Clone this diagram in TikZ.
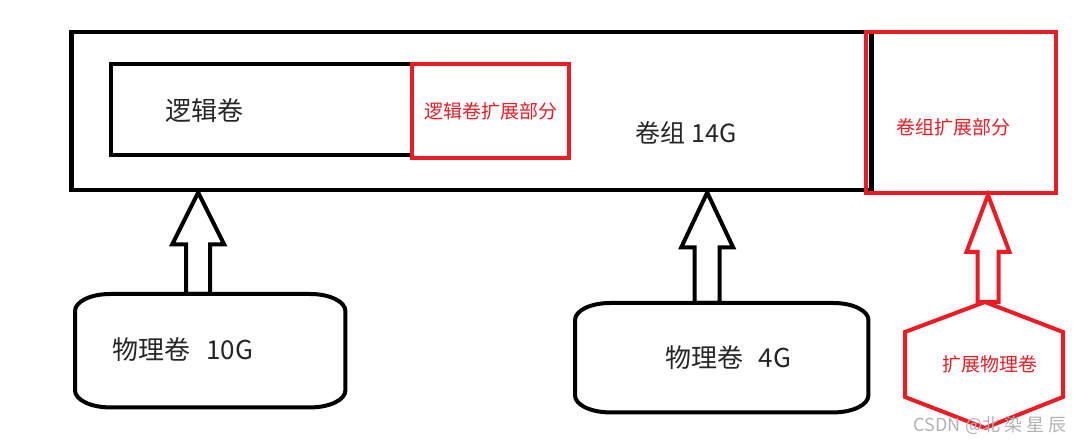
\documentclass[tikz,border=0pt]{standalone}
\usepackage{fontspec}
\setmainfont{Noto Sans CJK SC}
\usetikzlibrary{calc}
\definecolor{paintred}{HTML}{ED1C24}

% block arrow pointing up: [options]{base}{tip}{head half width}{head length}{shaft half width}
\newcommand{\blockup}[6][]{%
  \draw[#1] let \p1=(#3), \p2=(#2) in
    (\p1) -- (\x1-#4pt,\y1-#5pt) -- (\x1-#6pt,\y1-#5pt) -- (\x1-#6pt,\y2)
    -- (\x1+#6pt,\y2) -- (\x1+#6pt,\y1-#5pt) -- (\x1+#4pt,\y1-#5pt) -- cycle;}

% outline of a physical volume round a named node
\newcommand{\diskoutline}[1]{%
  \draw[line width=4pt] ([xshift=35pt]#1.north west) -- ([xshift=-35pt]#1.north east)
    arc[start angle=90, end angle=0, x radius=35pt, y radius=17pt]
    -- ([yshift=17pt]#1.south east)
    arc[start angle=0, end angle=-90, x radius=35pt, y radius=17pt]
    -- ([xshift=35pt]#1.south west)
    arc[start angle=270, end angle=180, x radius=35pt, y radius=17pt]
    -- ([yshift=-17pt]#1.north west)
    arc[start angle=180, end angle=90, x radius=35pt, y radius=17pt] -- cycle;}

\begin{document}
\begin{tikzpicture}[x=1pt, y=-1pt, line join=miter,
  frame/.style={draw, line width=4.5pt, inner sep=0pt, anchor=north west},
  redframe/.style={draw=paintred, line width=4pt, inner sep=0pt, anchor=north west},
  disk/.style={inner sep=0pt, anchor=north west},
  blacktxt/.style={text=black!85, font=\fontsize{25}{27}\selectfont},
  redtxt/.style={text=paintred, font=\fontsize{19}{21}\selectfont},
  arrowline/.style={line width=4pt},
  redarrow/.style={draw=paintred, line width=4pt}]

  \useasboundingbox (0,0) rectangle (1086,443);

  % volume group and its extension
  \node[frame, minimum width=800pt, minimum height=158pt] (vg) at (69,30) {};
  \node[redframe, minimum width=190pt, minimum height=161pt] (vgext) at (864,30) {};

  % logical volume and its extension
  \node[frame, line width=4pt, minimum width=301pt, minimum height=91pt] (lv) at (109,62) {};
  \node[redframe, minimum width=157pt, minimum height=94pt] (lvext) at (410,62) {};

  \node[blacktxt, font=\fontsize{26}{28}\selectfont] (lvtxt) at (204,111) {逻辑卷};
  \node[redtxt] (lvexttxt) at (lvext.center) {逻辑卷扩展部分};
  \node[blacktxt] (vgtxt) at (686,133) {卷组 14G};
  \node[redtxt] (vgexttxt) at (953,127) {卷组扩展部分};

  % physical volumes
  \node[disk, minimum width=270pt, minimum height=113pt] (pv1) at (75,294) {};
  \node[disk, minimum width=293pt, minimum height=109pt] (pv2) at (575,303) {};
  \diskoutline{pv1}
  \diskoutline{pv2}
  \node[blacktxt, font=\fontsize{26}{28}\selectfont] (pv1txt) at (183,350) {物理卷\hspace{0.6em}10G};
  \node[blacktxt, font=\fontsize{26}{28}\selectfont] (pv2txt) at (728,358) {物理卷\hspace{0.6em}4G};

  % added physical volume
  \node[inner sep=0pt] (pvext) at (984,365) {};
  \draw[paintred, line width=4pt] ($(pvext)+(1,-63)$) -- ++(78,30) -- ++(0,65)
    -- ++(-78,31) -- ++(-80,-31) -- ++(0,-65) -- cycle;
  \node[redtxt] (pvexttxt) at (990,364) {扩展物理卷};

  % arrows
  \coordinate (a1) at ([xshift=-12pt]pv1.north);
  \coordinate (t1) at (a1 |- vg.south);
  \coordinate (a2) at ([xshift=-14.5pt]pv2.north);
  \coordinate (t2) at (a2 |- vg.south);
  \coordinate (a3) at ($(pvext)+(4,-63)$);
  \coordinate (t3) at (a3 |- vgext.south);
  \blockup[arrowline]{a1}{t1}{26}{52}{12}
  \blockup[arrowline]{a2}{t2}{26}{55}{12.5}
  \blockup[redarrow]{a3}{t3}{21.5}{57}{10.5}

  \node[text=black!30, font=\fontsize{18}{20}\selectfont] (mark) at (990,425) {CSDN @北 染 星 辰};
\end{tikzpicture}
\end{document}
